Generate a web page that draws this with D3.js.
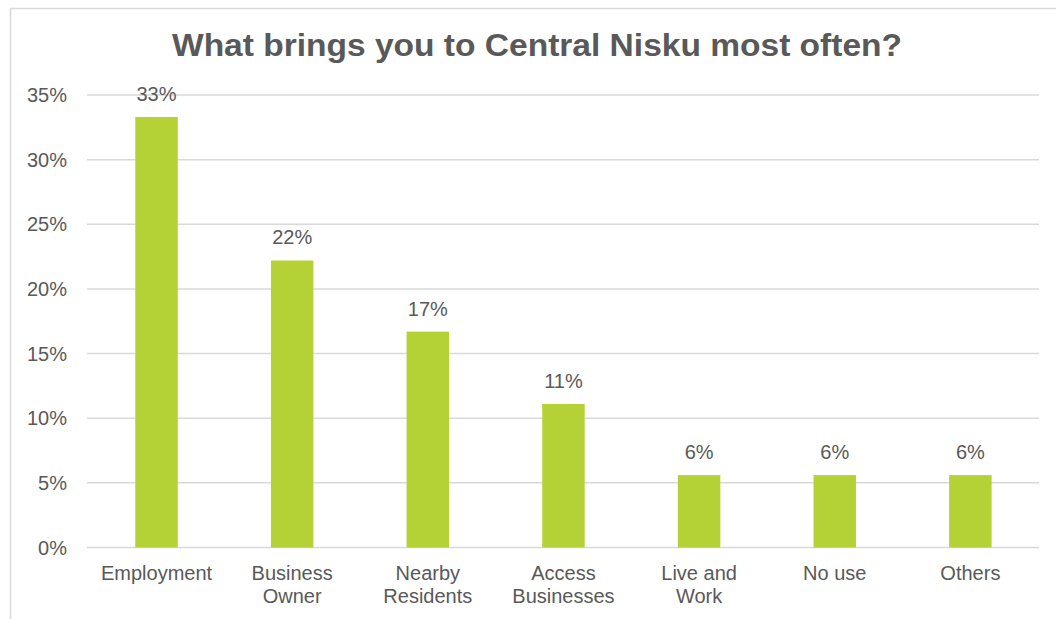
<!DOCTYPE html>
<html>
<head>
<meta charset="utf-8">
<script src="https://cdn.jsdelivr.net/npm/d3@7"></script>
<style>
  html, body { margin: 0; padding: 0; background: #fff; }
  svg { display: block; }
  text { font-family: "Liberation Sans", Arial, sans-serif; fill: #595959; }
</style>
</head>
<body>
<svg id="chart" width="1056" height="619"></svg>
<script>
// Survey responses: share of respondents per reason
const categories = ["Employment", "Business Owner", "Nearby Residents", "Access Businesses", "Live and Work", "No use", "Others"];
const shares = [0.333, 0.222, 0.167, 0.111, 0.056, 0.056, 0.056];
const yTicks = [0, 0.05, 0.10, 0.15, 0.20, 0.25, 0.30, 0.35];
const title = "What brings you to Central Nisku most often?";

const svg = d3.select("#chart");
const W = 1056, H = 619;
const plot = { left: 88.7, right: 1038.2, top: 95, bottom: 547.5 };

// outer frame (top and left edges visible)
svg.append("path")
  .attr("d", `M10.5,${H} L10.5,8.5 L${W},8.5`)
  .attr("fill", "none")
  .attr("stroke", "#d9d9d9")
  .attr("stroke-width", 1.5);

// title
svg.append("text")
  .attr("x", 537)
  .attr("y", 56)
  .attr("text-anchor", "middle")
  .attr("font-size", 32)
  .attr("font-weight", "bold")
  .attr("textLength", 730)
  .attr("lengthAdjust", "spacingAndGlyphs")
  .text(title);

const x = d3.scaleBand()
  .domain(categories)
  .range([plot.left, plot.right])
  .paddingInner(0.687)
  .paddingOuter(0.3435);

const y = d3.scaleLinear()
  .domain([0, 0.35])
  .range([plot.bottom, plot.top]);

// horizontal gridlines
svg.append("g")
  .selectAll("line")
  .data(yTicks)
  .join("line")
  .attr("x1", 87)
  .attr("x2", 1039)
  .attr("y1", d => y(d))
  .attr("y2", d => y(d))
  .attr("stroke", "#d9d9d9")
  .attr("stroke-width", 1.5);

// y axis labels
const pct = d3.format(".0%");
svg.append("g")
  .selectAll("text")
  .data(yTicks)
  .join("text")
  .attr("x", 67)
  .attr("y", d => y(d) + 7)
  .attr("text-anchor", "end")
  .attr("font-size", 20)
  .text(d => pct(d));

// bars
svg.append("g")
  .selectAll("rect")
  .data(categories)
  .join("rect")
  .attr("x", d => x(d))
  .attr("width", x.bandwidth())
  .attr("y", (d, i) => y(shares[i]))
  .attr("height", (d, i) => y(0) - y(shares[i]))
  .attr("fill", "#b4d235");

// value labels
svg.append("g")
  .selectAll("text")
  .data(categories)
  .join("text")
  .attr("x", d => x(d) + x.bandwidth() / 2)
  .attr("y", (d, i) => y(shares[i]) - 16)
  .attr("text-anchor", "middle")
  .attr("font-size", 20)
  .text((d, i) => pct(shares[i]));

// category labels, wrapped to fit the band
const maxLabelWidth = 118;
const catG = svg.append("g");
categories.forEach(cat => {
  const cx = x(cat) + x.bandwidth() / 2;
  const t = catG.append("text")
    .attr("x", cx)
    .attr("y", 580)
    .attr("text-anchor", "middle")
    .attr("font-size", 20);
  const words = cat.split(" ");
  let line = [];
  let tspan = t.append("tspan").attr("x", cx).attr("dy", 0);
  words.forEach(w => {
    line.push(w);
    tspan.text(line.join(" "));
    if (tspan.node().getComputedTextLength() > maxLabelWidth && line.length > 1) {
      line.pop();
      tspan.text(line.join(" "));
      line = [w];
      tspan = t.append("tspan")
        .attr("x", cx)
        .attr("dy", 23)
        .text(w);
    }
  });
});
</script>
</body>
</html>
